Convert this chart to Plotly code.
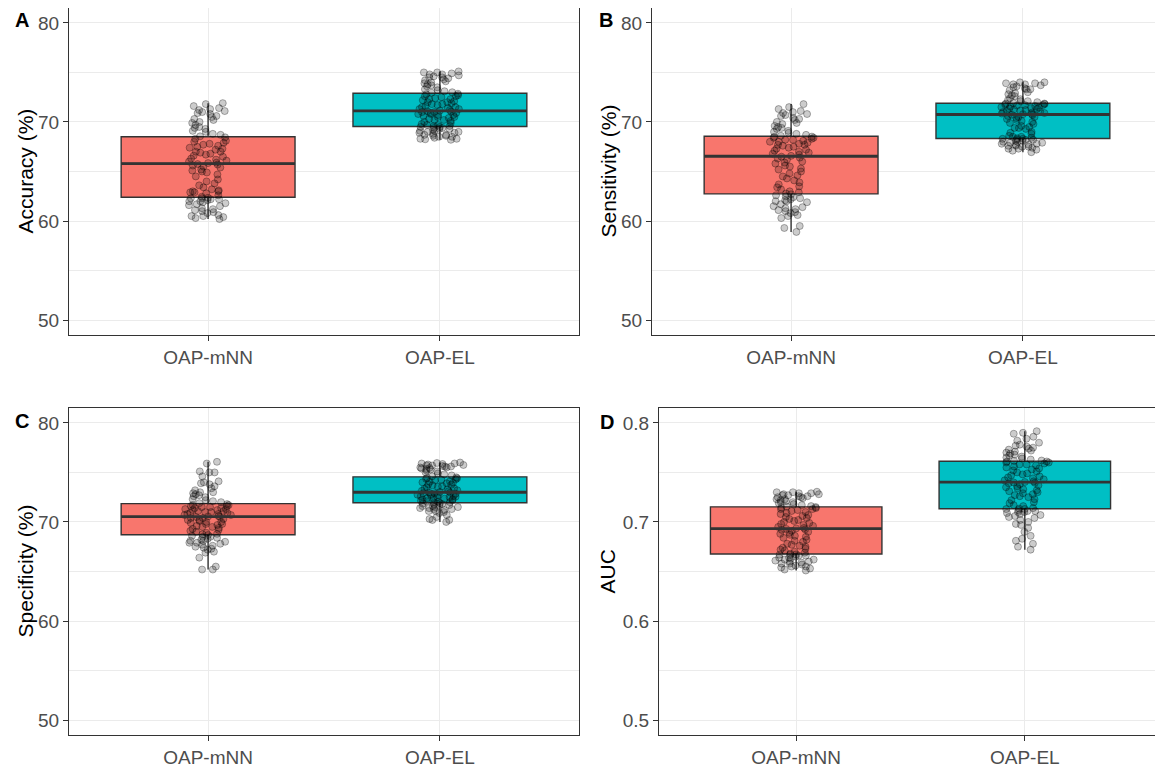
import numpy as np
import plotly.graph_objects as go

categories = ["OAP-mNN", "OAP-EL"]
panel_letters = ["A", "B", "C", "D"]
metric_titles = ["Accuracy (%)", "Sensitivity (%)", "Specificity (%)", "AUC"]

accuracy_mnn = [60.2, 60.3, 60.4, 60.5, 60.5, 60.6, 60.8, 60.9, 61.0, 61.1, 61.2, 61.3, 61.5, 61.6, 61.7, 61.8, 61.9, 62.0, 62.0, 62.1, 62.2, 62.2, 62.3, 62.3, 62.35,
                62.45, 62.6, 62.8, 62.9, 62.9, 63.0, 63.0, 63.1, 63.2, 63.4, 63.6, 63.8, 64.0, 64.2, 64.5, 64.7, 64.9, 65.0, 65.1, 65.2, 65.4, 65.5, 65.6, 65.7, 65.75,
                65.85, 65.9, 66.0, 66.1, 66.2, 66.3, 66.5, 66.6, 66.7, 66.8, 66.9, 67.0, 67.0, 67.2, 67.3, 67.4, 67.5, 67.6, 67.7, 67.8, 67.9, 68.0, 68.1, 68.3, 68.45,
                68.55, 68.7, 68.8, 69.0, 69.1, 69.3, 69.4, 69.5, 69.7, 69.9, 70.0, 70.2, 70.3, 70.5, 70.6, 70.8, 70.9, 71.0, 71.1, 71.2, 71.3, 71.4, 71.6, 71.8, 71.9]
accuracy_el = [68.2, 68.25, 68.3, 68.3, 68.4, 68.5, 68.5, 68.6, 68.6, 68.7, 68.7, 68.8, 68.9, 68.9, 69.0, 69.0, 69.1, 69.1, 69.2, 69.3, 69.3, 69.4, 69.4, 69.5, 69.5,
               69.58, 69.6, 69.7, 69.7, 69.8, 69.9, 70.0, 70.1, 70.2, 70.2, 70.3, 70.4, 70.5, 70.5, 70.6, 70.7, 70.7, 70.8, 70.8, 70.9, 70.9, 71.0, 71.0, 71.05, 71.08,
               71.15, 71.2, 71.3, 71.3, 71.4, 71.5, 71.5, 71.6, 71.7, 71.8, 71.8, 71.9, 72.0, 72.0, 72.1, 72.2, 72.3, 72.3, 72.4, 72.5, 72.6, 72.6, 72.7, 72.8, 72.85,
               72.95, 73.0, 73.1, 73.2, 73.3, 73.5, 73.6, 73.7, 73.8, 73.9, 74.0, 74.1, 74.2, 74.3, 74.4, 74.5, 74.5, 74.6, 74.7, 74.8, 74.8, 74.9, 75.0, 75.0, 75.1]

sensitivity_mnn = [58.9, 59.3, 59.5, 60.3, 60.5, 60.6, 60.8, 60.9, 61.0, 61.1, 61.2, 61.3, 61.4, 61.5, 61.7, 61.9, 62.0, 62.0, 62.1, 62.2, 62.3, 62.4, 62.5, 62.6, 62.7,
                   62.78, 62.9, 63.0, 63.2, 63.4, 63.5, 63.7, 63.9, 64.1, 64.3, 64.5, 64.6, 64.8, 65.0, 65.2, 65.3, 65.5, 65.6, 65.8, 65.9, 66.0, 66.2, 66.3, 66.4, 66.5,
                   66.58, 66.7, 66.8, 66.9, 67.0, 67.1, 67.2, 67.3, 67.4, 67.5, 67.6, 67.7, 67.7, 67.8, 67.9, 68.0, 68.0, 68.1, 68.2, 68.2, 68.3, 68.4, 68.4, 68.5, 68.52,
                   68.6, 68.7, 68.8, 68.9, 69.0, 69.1, 69.3, 69.4, 69.5, 69.6, 69.8, 69.9, 70.0, 70.2, 70.3, 70.4, 70.6, 70.7, 70.8, 70.9, 71.0, 71.1, 71.3, 71.5, 71.8]
sensitivity_el = [66.95, 67.1, 67.2, 67.3, 67.3, 67.4, 67.5, 67.5, 67.6, 67.6, 67.7, 67.7, 67.8, 67.8, 67.9, 67.9, 68.0, 68.0, 68.1, 68.1, 68.2, 68.2, 68.25, 68.3, 68.3,
                  68.36, 68.4, 68.5, 68.5, 68.6, 68.8, 68.9, 69.0, 69.3, 69.4, 69.4, 69.5, 69.6, 69.8, 69.9, 70.0, 70.1, 70.2, 70.3, 70.4, 70.5, 70.5, 70.6, 70.7, 70.72,
                  70.78, 70.8, 70.85, 70.9, 70.95, 71.0, 71.05, 71.1, 71.15, 71.2, 71.25, 71.3, 71.35, 71.4, 71.45, 71.5, 71.55, 71.6, 71.65, 71.7, 71.7, 71.75, 71.8, 71.85, 71.86,
                  71.92, 72.0, 72.1, 72.1, 72.2, 72.3, 72.4, 72.6, 72.7, 72.8, 72.9, 73.0, 73.2, 73.3, 73.3, 73.4, 73.5, 73.6, 73.7, 73.8, 73.8, 73.9, 73.9, 74.0, 74.0]

specificity_mnn = [65.2, 65.2, 65.5, 66.4, 66.9, 67.0, 67.2, 67.3, 67.4, 67.5, 67.6, 67.7, 67.8, 67.9, 67.9, 68.0, 68.1, 68.1, 68.2, 68.3, 68.4, 68.5, 68.5, 68.6, 68.68,
                   68.75, 68.8, 68.9, 69.0, 69.1, 69.2, 69.3, 69.4, 69.5, 69.5, 69.6, 69.7, 69.8, 69.8, 69.9, 70.0, 70.0, 70.1, 70.2, 70.2, 70.3, 70.4, 70.4, 70.5, 70.5,
                   70.56, 70.6, 70.7, 70.7, 70.8, 70.8, 70.9, 70.9, 71.0, 71.0, 71.1, 71.1, 71.2, 71.2, 71.3, 71.3, 71.4, 71.4, 71.5, 71.5, 71.6, 71.6, 71.7, 71.7, 71.8,
                   71.9, 72.0, 72.1, 72.2, 72.3, 72.5, 72.6, 72.7, 72.8, 72.9, 73.0, 73.0, 73.2, 73.4, 73.6, 73.8, 73.9, 74.0, 74.1, 74.6, 75.0, 75.0, 75.1, 75.9, 76.07]
specificity_el = [70.0, 70.2, 70.2, 70.3, 70.5, 70.7, 70.9, 71.0, 71.1, 71.1, 71.2, 71.3, 71.3, 71.4, 71.4, 71.5, 71.5, 71.6, 71.6, 71.7, 71.7, 71.8, 71.8, 71.85, 71.9,
                  71.98, 72.0, 72.05, 72.1, 72.15, 72.2, 72.25, 72.3, 72.35, 72.4, 72.4, 72.5, 72.5, 72.55, 72.6, 72.65, 72.7, 72.7, 72.75, 72.8, 72.85, 72.9, 72.9, 72.95, 72.98,
                  73.02, 73.1, 73.15, 73.2, 73.3, 73.35, 73.4, 73.5, 73.55, 73.6, 73.7, 73.75, 73.8, 73.9, 73.95, 74.0, 74.05, 74.1, 74.2, 74.25, 74.3, 74.35, 74.4, 74.45, 74.5,
                  74.6, 74.7, 74.8, 74.9, 75.0, 75.1, 75.2, 75.3, 75.35, 75.4, 75.45, 75.5, 75.5, 75.6, 75.6, 75.65, 75.7, 75.7, 75.75, 75.8, 75.85, 75.9, 75.9, 75.95, 76.0]

auc_mnn = [0.651, 0.652, 0.653, 0.654, 0.655, 0.655, 0.656, 0.657, 0.658, 0.658, 0.659, 0.660, 0.660, 0.661, 0.662, 0.662, 0.663, 0.664, 0.664, 0.665, 0.666, 0.666, 0.667, 0.667, 0.6672,
           0.668, 0.669, 0.670, 0.671, 0.672, 0.673, 0.674, 0.675, 0.676, 0.677, 0.678, 0.680, 0.681, 0.682, 0.684, 0.685, 0.686, 0.687, 0.688, 0.689, 0.690, 0.691, 0.692, 0.6925, 0.693,
           0.6935, 0.694, 0.695, 0.696, 0.697, 0.698, 0.699, 0.700, 0.701, 0.702, 0.703, 0.704, 0.705, 0.706, 0.707, 0.708, 0.709, 0.710, 0.711, 0.712, 0.713, 0.713, 0.714, 0.7145, 0.715,
           0.7155, 0.716, 0.717, 0.718, 0.719, 0.720, 0.720, 0.721, 0.722, 0.723, 0.723, 0.724, 0.725, 0.725, 0.726, 0.726, 0.727, 0.727, 0.728, 0.728, 0.729, 0.729, 0.730, 0.730, 0.7305]
auc_el = [0.672, 0.675, 0.678, 0.681, 0.683, 0.686, 0.690, 0.694, 0.697, 0.698, 0.700, 0.702, 0.704, 0.705, 0.706, 0.707, 0.708, 0.709, 0.710, 0.710, 0.711, 0.711, 0.712, 0.713, 0.7131,
          0.7135, 0.714, 0.716, 0.717, 0.719, 0.720, 0.722, 0.723, 0.725, 0.726, 0.727, 0.728, 0.729, 0.730, 0.731, 0.732, 0.733, 0.734, 0.735, 0.736, 0.737, 0.738, 0.739, 0.7395, 0.7399,
          0.7403, 0.741, 0.742, 0.743, 0.744, 0.745, 0.746, 0.747, 0.748, 0.749, 0.750, 0.751, 0.752, 0.753, 0.754, 0.755, 0.756, 0.757, 0.758, 0.758, 0.759, 0.760, 0.760, 0.761, 0.761,
          0.7616, 0.762, 0.763, 0.764, 0.765, 0.766, 0.767, 0.768, 0.769, 0.770, 0.771, 0.772, 0.773, 0.774, 0.775, 0.776, 0.777, 0.778, 0.780, 0.782, 0.784, 0.786, 0.789, 0.790, 0.7916]

percent_ticks = [50, 60, 70, 80]
auc_ticks = [0.5, 0.6, 0.7, 0.8]

panel_data = [
    (accuracy_mnn, accuracy_el),
    (sensitivity_mnn, sensitivity_el),
    (specificity_mnn, specificity_el),
    (auc_mnn, auc_el),
]

# ---------------- styling / layout ----------------
# The page body has an 8px margin, so the figure is drawn 8px smaller and
# all page-pixel positions are shifted by that offset.
OFF = 8
W, H = 1163 - OFF, 768 - OFF
FILLS = ["#F8766D", "#00BFC4"]
DARK = "#333333"
GRID = "#EBEBEB"
FONT = "Liberation Sans, Arial, sans-serif"
BOX_W = 0.75

# page-pixel boxes of the 4 panels: (left, right, top, bottom)
panels_px = [(69, 579, 8, 335), (652, 1162, 8, 335), (69, 579, 408, 735), (659, 1162, 408, 735)]
letter_pos = [(13, 20), (597, 20), (13, 421), (598, 422)]
title_x = [25, 608, 25, 607]


def px_x(p):
    return (p - OFF) / W


def px_y(p):
    return 1 - (p - OFF) / H


fig = go.Figure()
layout = dict(
    width=W, height=H, margin=dict(l=0, r=0, t=0, b=0),
    paper_bgcolor="white", plot_bgcolor="white",
    showlegend=False, font=dict(family=FONT), annotations=[],
)

for i, (mnn, el) in enumerate(panel_data):
    sfx = "" if i == 0 else str(i + 1)
    xa, ya = "x" + sfx, "y" + sfx
    for j, vals in enumerate((mnn, el)):
        pos = j + 1
        fig.add_trace(go.Box(
            y=vals, x0=pos, xaxis=xa, yaxis=ya, width=BOX_W,
            fillcolor=FILLS[j], line=dict(color=DARK, width=1.4),
            whiskerwidth=0, boxpoints="all", jitter=0.28, pointpos=0,
            marker=dict(size=7, color="rgba(0,0,0,0.2)",
                        line=dict(color="rgba(0,0,0,0.38)", width=0.8)),
            hoverinfo="y",
        ))
        med = float(np.median(vals))
        fig.add_trace(go.Scatter(
            x=[pos - BOX_W / 2, pos + BOX_W / 2], y=[med, med], mode="lines",
            line=dict(color=DARK, width=2.8), xaxis=xa, yaxis=ya, hoverinfo="skip",
        ))

    l, r, t, b = panels_px[i]
    is_auc = i == 3
    ticks = auc_ticks if is_auc else percent_ticks
    span = ticks[-1] - ticks[0]
    rng = [ticks[0] - 0.05 * span, ticks[-1] + 0.05 * span]
    layout["xaxis" + sfx] = dict(
        domain=[px_x(l), px_x(r)], anchor=ya, range=[0.4, 2.6],
        tickvals=[1, 2], ticktext=categories,
        showgrid=True, gridcolor=GRID, gridwidth=1, zeroline=False,
        showline=True, mirror=True, linecolor=DARK, linewidth=1,
        ticks="outside", ticklen=5, tickcolor=DARK, tickwidth=1,
        tickfont=dict(family=FONT, size=19, color="#4D4D4D"),
    )
    layout["yaxis" + sfx] = dict(
        domain=[px_y(b), px_y(t)], anchor=xa, range=rng,
        tickvals=ticks, ticktext=[str(v) for v in ticks],
        showgrid=True, gridcolor=GRID, gridwidth=1, zeroline=False,
        minor=dict(dtick=span / 6, tick0=ticks[0], showgrid=True,
                   gridcolor=GRID, gridwidth=0.7, ticks=""),
        showline=True, mirror=True, linecolor=DARK, linewidth=1,
        ticks="outside", ticklen=5, tickcolor=DARK, tickwidth=1,
        tickfont=dict(family=FONT, size=19, color="#4D4D4D"),
    )
    lx, ly = letter_pos[i]
    layout["annotations"].append(dict(
        text="<b>%s</b>" % panel_letters[i], xref="paper", yref="paper",
        x=px_x(lx), y=px_y(ly), xanchor="left", yanchor="middle", showarrow=False,
        font=dict(family=FONT, size=20, color="black"),
    ))
    layout["annotations"].append(dict(
        text=metric_titles[i], xref="paper", yref="paper", textangle=-90,
        x=px_x(title_x[i]), y=px_y((t + b) / 2), xanchor="center", yanchor="middle",
        showarrow=False, font=dict(family=FONT, size=21, color="black"),
    ))

fig.update_layout(**layout)
fig.write_html("out.html")
